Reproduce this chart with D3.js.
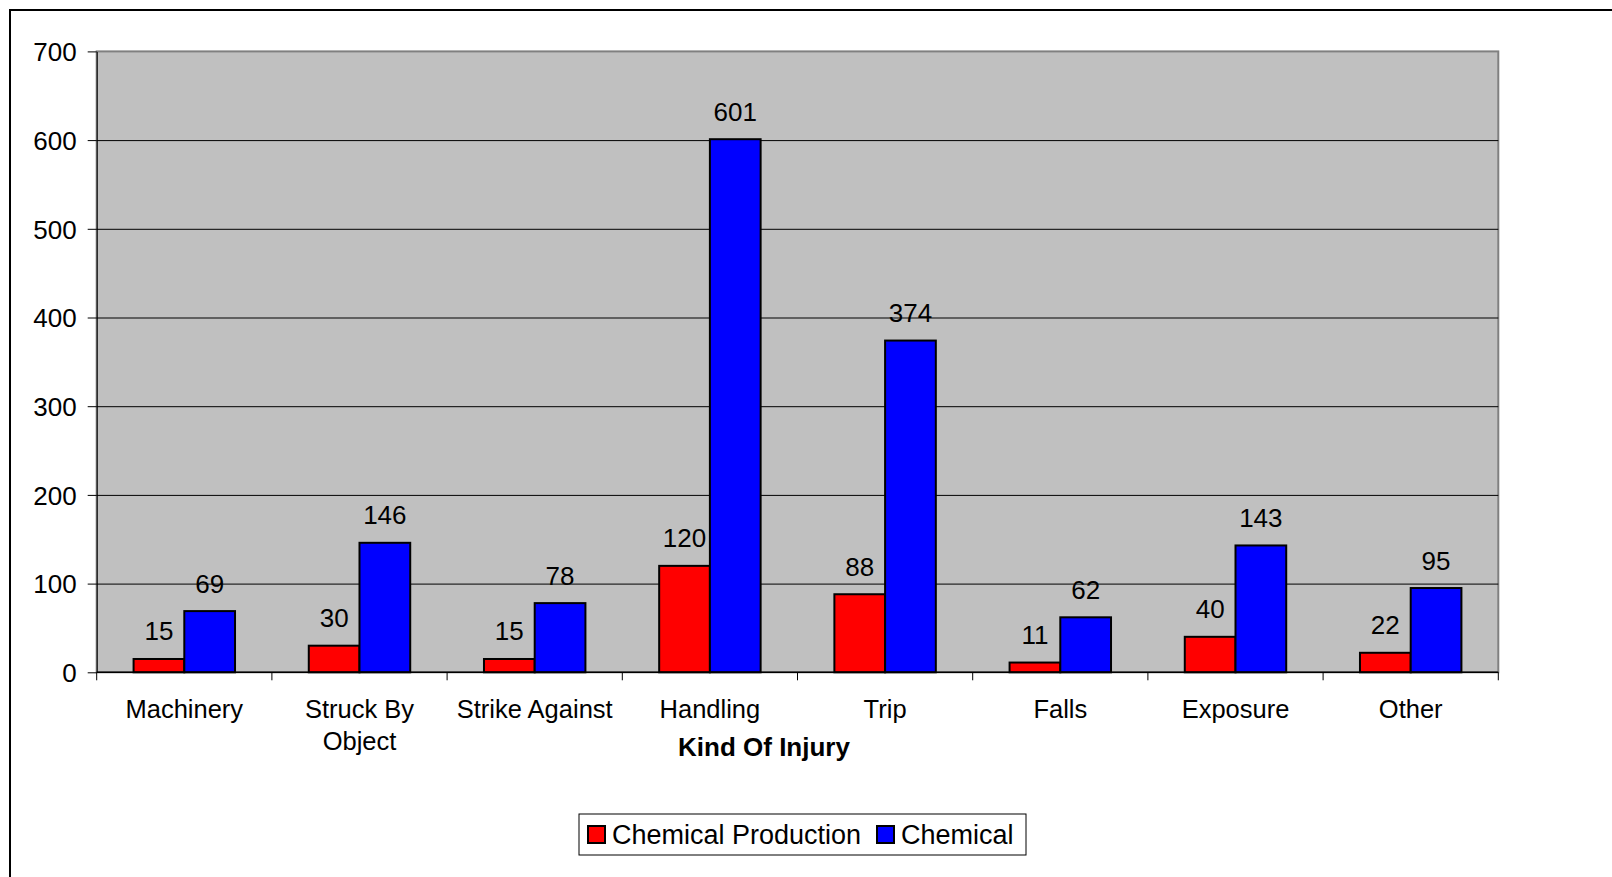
<!doctype html>
<html lang="en">

<head>
    <meta charset="UTF-8" />
    <title>Kind Of Injury</title>
    <script src="https://d3js.org/d3.v7.min.js"></script>
    <style>
        body,
        html {
            margin: 0;
            padding: 0;
            background: #ffffff;
            overflow: hidden;
        }

        svg {
            display: block;
            font-family: "Liberation Sans", Arial, sans-serif;
        }

        .axis path,
        .axis line {
            stroke: #000;
        }

        .axis text {
            font-size: 26px;
            fill: #000;
        }
    </style>
</head>

<body>
    <svg id="chart" width="1612" height="877"></svg>
    <script>
        const categories = ["Machinery", "Struck By Object", "Strike Against", "Handling", "Trip", "Falls", "Exposure", "Other"];
        const seriesNames = ["Chemical Production", "Chemical"];
        const chemicalProduction = [15, 30, 15, 120, 88, 11, 40, 22];
        const chemical = [69, 146, 78, 601, 374, 62, 143, 95];
        const yTicks = [0, 100, 200, 300, 400, 500, 600, 700];
        const colors = ["#ff0000", "#0000ff"];

        const svg = d3.select("#chart");

        const plotLeft = 96.7,
            plotRight = 1498.3,
            plotTop = 51.4,
            plotBottom = 672.3;

        // outer frame (runs off right and bottom)
        svg.append("rect")
            .attr("x", 10).attr("y", 10)
            .attr("width", 1700).attr("height", 1000)
            .attr("fill", "none").attr("stroke", "#000").attr("stroke-width", 2);

        const x = d3.scaleBand().domain(categories).range([plotLeft, plotRight]).padding(0);
        const groupPad = x.bandwidth() * 0.2105;
        const x1 = d3.scaleBand().domain(seriesNames).range([groupPad, x.bandwidth() - groupPad]).padding(0);
        const y = d3.scaleLinear().domain([0, 700]).range([plotBottom, plotTop]);

        // plot area
        svg.append("rect")
            .attr("x", plotLeft).attr("y", plotTop)
            .attr("width", plotRight - plotLeft).attr("height", plotBottom - plotTop)
            .attr("fill", "#c0c0c0").attr("stroke", "#808080").attr("stroke-width", 2);

        // gridlines
        svg.append("g")
            .attr("transform", `translate(${plotLeft},0)`)
            .call(d3.axisLeft(y).tickValues(yTicks.slice(1, -1)).tickSize(-(plotRight - plotLeft)).tickFormat(""))
            .call(g => g.select(".domain").remove())
            .selectAll("line").attr("stroke", "#000").attr("stroke-width", 1);

        const rows = categories.map((c, i) => ({
            cat: c,
            vals: [chemicalProduction[i], chemical[i]]
        }));

        const groups = svg.append("g").selectAll("g")
            .data(rows).join("g")
            .attr("transform", d => `translate(${x(d.cat)},0)`);

        groups.selectAll("rect")
            .data(d => d.vals.map((v, j) => ({ s: seriesNames[j], v: v, j: j })))
            .join("rect")
            .attr("x", d => x1(d.s))
            .attr("y", d => y(d.v))
            .attr("width", x1.bandwidth())
            .attr("height", d => y(0) - y(d.v))
            .attr("fill", d => colors[d.j])
            .attr("stroke", "#000").attr("stroke-width", 2);

        groups.selectAll("text")
            .data(d => d.vals.map((v, j) => ({ s: seriesNames[j], v: v })))
            .join("text")
            .attr("x", d => x1(d.s) + x1.bandwidth() / 2)
            .attr("y", d => y(d.v) - 18.5)
            .attr("text-anchor", "middle")
            .attr("font-size", 26)
            .text(d => d.v);

        // y axis
        svg.append("g")
            .attr("class", "axis")
            .attr("transform", `translate(${plotLeft},0)`)
            .call(d3.axisLeft(y).tickValues(yTicks).tickSize(9).tickPadding(11).tickSizeOuter(0))
            .selectAll("text").attr("dy", "0.36em");

        // x axis
        const xAxis = svg.append("g")
            .attr("class", "axis")
            .attr("transform", `translate(0,${plotBottom})`);
        xAxis.append("line")
            .attr("x1", plotLeft).attr("x2", plotRight)
            .attr("stroke", "#000").attr("stroke-width", 1.5);
        xAxis.selectAll(".tk")
            .data(categories.map(c => x(c)).concat([plotRight]))
            .join("line")
            .attr("x1", d => d).attr("x2", d => d)
            .attr("y1", 0).attr("y2", 8)
            .attr("stroke", "#000");

        const labels = xAxis.selectAll(".lbl")
            .data(categories).join("text")
            .attr("x", d => x(d) + x.bandwidth() / 2)
            .attr("y", 46)
            .attr("text-anchor", "middle")
            .style("font-size", "25.5px")
            .text(d => d);

        // wrap long category labels
        labels.each(function(d) {
            const t = d3.select(this);
            if (this.getComputedTextLength() <= 172) return;
            const words = d.split(" ");
            t.text(null);
            let line = [];
            let tspan = t.append("tspan").attr("x", x(d) + x.bandwidth() / 2);
            words.forEach(w => {
                line.push(w);
                tspan.text(line.join(" "));
                if (tspan.node().getComputedTextLength() > 172 && line.length > 1) {
                    line.pop();
                    tspan.text(line.join(" "));
                    line = [w];
                    tspan = t.append("tspan").attr("x", x(d) + x.bandwidth() / 2)
                        .attr("dy", 31.5).text(w);
                }
            });
        });

        // axis title
        svg.append("text")
            .attr("x", 764).attr("y", 756)
            .attr("text-anchor", "middle")
            .attr("font-size", 26).attr("font-weight", "bold")
            .text("Kind Of Injury");

        // legend
        const legend = svg.append("g");
        legend.append("rect")
            .attr("x", 579).attr("y", 814)
            .attr("width", 447).attr("height", 41)
            .attr("fill", "#fff").attr("stroke", "#000").attr("stroke-width", 1);
        const legendX = [588, 877];
        const items = legend.selectAll(".item")
            .data(seriesNames).join("g")
            .attr("transform", (d, i) => `translate(${legendX[i]},826)`);
        items.append("rect")
            .attr("width", 17).attr("height", 17)
            .attr("fill", (d, i) => colors[i])
            .attr("stroke", "#000").attr("stroke-width", 2);
        items.append("text")
            .attr("x", 24).attr("y", 17.5)
            .attr("font-size", 27)
            .text(d => d);
    </script>
</body>

</html>
